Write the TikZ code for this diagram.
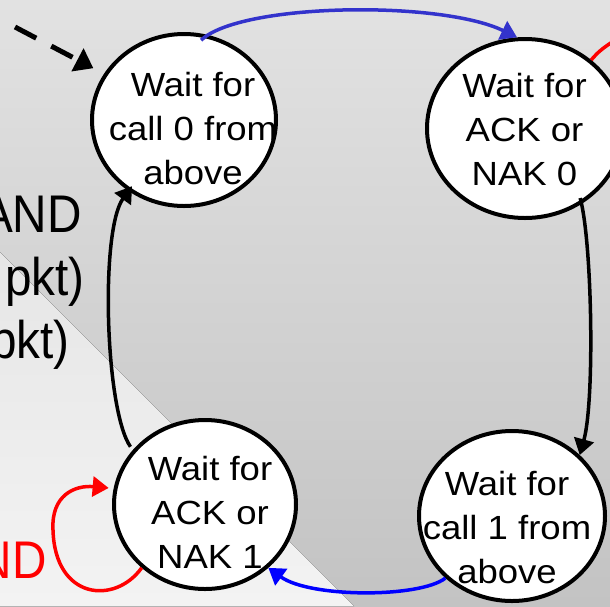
\documentclass[tikz,border=0pt]{standalone}
\usepackage{fontspec}
\setmainfont{Liberation Sans}
\newfontfamily\statefont[FakeStretch=1.09]{Liberation Sans}
\newfontfamily\sidefont[FakeStretch=0.9]{Liberation Sans}
\usetikzlibrary{shapes.geometric,arrows.meta}
\definecolor{bgtop}{HTML}{E2E2E2}
\definecolor{bgbot}{HTML}{C3C3C3}
\definecolor{lttop}{HTML}{E6E6E6}
\definecolor{ltbot}{HTML}{F3F3F3}
\definecolor{topblue}{HTML}{3333CC}
\definecolor{botblue}{HTML}{0000FF}
\definecolor{loopred}{HTML}{FF0000}
\setlength{\tabcolsep}{0pt}
\newcommand{\stlines}[3]{\begin{tabular}[t]{c}#1\\#2\\#3\end{tabular}}
\begin{document}
\begin{tikzpicture}[x=1pt,y=-1pt,
  state/.style={ellipse,draw=black,line width=4pt,fill=white,inner sep=0pt},
  statetext/.style={anchor=base,inner sep=0pt,font=\statefont\fontsize{33.5}{44}\selectfont},
  sidetext/.style={anchor=base east,inner sep=0pt,font=\sidefont\fontsize{53}{63}\selectfont},
  conn/.style={line width=3.5pt,-{Triangle[length=16pt,width=20pt]}},
  dashconn/.style={line width=5pt,dash pattern=on 24pt off 17pt,-{Triangle[length=18pt,width=25pt]}},
]
\useasboundingbox (0,0) rectangle (610,606);
\clip (0,0) rectangle (610,606);
% background
\fill[top color=bgtop,bottom color=bgbot] (0,0) rectangle (610,606);
\fill[top color=lttop,bottom color=ltbot] (0,252) -- (354,606) -- (0,606) -- cycle;

% states
\node[state,minimum width=184pt,minimum height=172pt] (s0) at (184,120) {};
\node[state,minimum width=196pt,minimum height=179pt] (s1) at (525,128.5) {};
\node[state,minimum width=182pt,minimum height=169pt] (s2) at (205,504.5) {};
\node[state,minimum width=186pt,minimum height=170pt] (s3) at (512,516) {};

% state texts
\node[statetext] (t0) at (193,96) {\stlines{Wait for}{call 0 from}{above}};
\node[statetext] (t1) at (524.5,97) {\stlines{Wait for}{ACK or}{NAK 0}};
\node[statetext] (t2) at (210,480) {\stlines{Wait for}{ACK or}{NAK 1}};
\node[statetext] (t3) at (507,495) {\stlines{Wait for}{call 1 from}{above}};

% side texts (cut by the frame)
\node[sidetext] (l1) at (82,232) {AND};
\node[sidetext] (l2) at (85,295) {pkt)};
\node[sidetext] (l3) at (70,358) {pkt)};
\node[sidetext,text=loopred] (l4) at (47,578) {ND};

% connectors
\draw[conn,topblue,shorten <=-8pt] (s0.75) .. controls (240,3) and (440,0) .. (s1.95);
\draw[conn,black,shorten <=-6pt] (s1.-53) .. controls (592,240) and (595,400) .. (s3.42);
\draw[conn,botblue] (s3.223) .. controls (420,598) and (310,598) .. (s2.-45);
\draw[conn,black,shorten <=4pt,shorten >=-6pt] (s2.143) .. controls (105,410) and (100,230) .. (s0.-128);
\draw[conn,loopred,shorten >=5pt] (s2.-135) .. controls (115,605) and (55,600) .. (53,530)
   .. controls (51,495) and (75,485) .. (s2.170);
\coordinate (redend) at (630,30);
\draw[loopred,line width=3.5pt] (s1.46) .. controls (600,50) .. (redend);
\coordinate (dstart) at (15,27);
\draw[dashconn,black,shorten >=12pt] (dstart) -- (s0.150);
\end{tikzpicture}
\end{document}
